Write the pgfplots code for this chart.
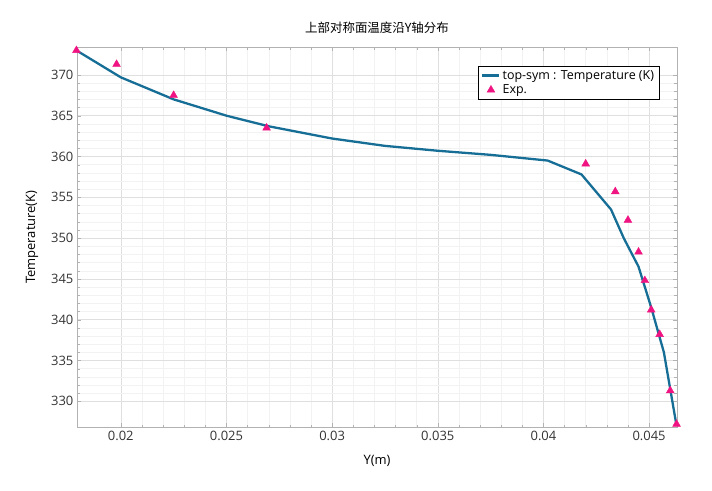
\documentclass[border=0pt]{standalone}
\usepackage{pgfplots}
\pgfplotsset{compat=1.18}
\usepackage{fontspec}
\setmainfont{Open Sans}
\newfontfamily\cjk{Noto Sans CJK SC}
\definecolor{lc}{RGB}{22,110,150}
\definecolor{mc}{RGB}{240,20,130}
\begin{document}
\begin{tikzpicture}
\begin{axis}[scale only axis, width=600bp, height=380bp,
 xmin=0.01792, xmax=0.04633, ymin=326.8, ymax=373.4,
 scaled x ticks=false,
 xtick={0.02,0.025,0.03,0.035,0.04,0.045},
 xticklabels={0.02,0.025,0.03,0.035,0.04,0.045},
 ytick={330,335,...,370},
 minor x tick num=4, minor y tick num=4,
 grid=both, major grid style={gray!25}, minor grid style={gray!10},
 axis line style={gray!60}, tick style={gray!60},
 /pgf/number format/assume math mode=true,
 ticklabel style={font=\fontsize{13}{15}\selectfont, text=black!80},
 xlabel={Y(m)}, ylabel={Temperature(K)},
 xlabel style={yshift=-8pt}, ylabel style={yshift=6pt},
 label style={font=\fontsize{13}{15}\selectfont},
 title={\cjk 上部对称面温度沿Y轴分布}, title style={font=\fontsize{12.5}{15}\selectfont, yshift=4pt},
 legend style={font=\fontsize{12.5}{15}\selectfont, draw=black, at={(0.97,0.95)}, anchor=north east, cells={anchor=west}},
 clip=false]
\addplot[lc, line width=2.3pt] coordinates {(0.0179,373) (0.02,369.7) (0.0225,367) (0.025,365) (0.027,363.7) (0.03,362.2) (0.0325,361.3) (0.035,360.7) (0.0375,360.2) (0.0402,359.5) (0.0418,357.8) (0.0432,353.5) (0.0438,350) (0.0445,346.5) (0.0451,341.5) (0.0457,336) (0.0463,327)};
\addlegendentry{top-sym : Temperature (K)}
\addplot[only marks, mark=triangle*, mark size=4.5pt, color=mc] coordinates {(0.0179,373) (0.0198,371.3) (0.0225,367.5) (0.0269,363.5) (0.042,359.1) (0.0434,355.7) (0.044,352.2) (0.0445,348.3) (0.0448,344.8) (0.0451,341.2) (0.0455,338.2) (0.046,331.3) (0.0463,327.2)};
\addlegendentry{Exp.}
\path (axis description cs:-0.128,-0.166) rectangle (axis description cs:1.058,1.124);
\end{axis}
\end{tikzpicture}
\end{document}
